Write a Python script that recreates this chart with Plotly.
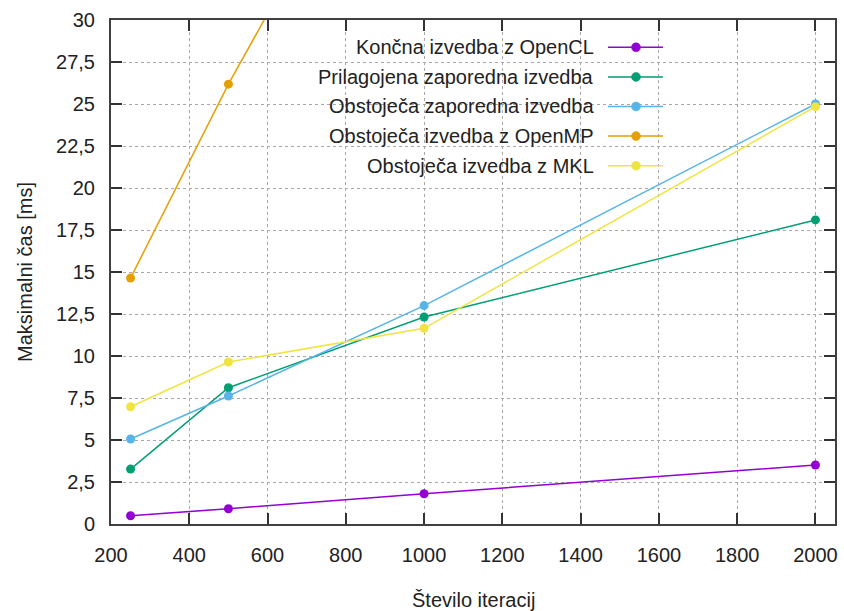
import plotly.graph_objects as go

iterations = [250, 500, 1000, 2000]
opencl_final = [0.49, 0.91, 1.80, 3.51]
adapted_serial = [3.27, 8.11, 12.32, 18.10]
existing_serial = [5.06, 7.62, 13.00, 25.00]
existing_openmp = [14.64, 26.18, 47.1, 92.0]
existing_mkl = [6.98, 9.64, 11.65, 24.84]

series_names = [
    "Končna izvedba z OpenCL",
    "Prilagojena zaporedna izvedba",
    "Obstoječa zaporedna izvedba",
    "Obstoječa izvedba z OpenMP",
    "Obstoječa izvedba z MKL",
]
series_values = [opencl_final, adapted_serial, existing_serial, existing_openmp, existing_mkl]
series_colors = ["#9400d3", "#009e73", "#56b4e9", "#e69f00", "#f0e442"]

x_ticks = [200, 400, 600, 800, 1000, 1200, 1400, 1600, 1800, 2000]
y_ticks = [0, 2.5, 5, 7.5, 10, 12.5, 15, 17.5, 20, 22.5, 25, 27.5, 30]
y_tick_labels = ["0", "2,5", "5", "7,5", "10", "12,5", "15", "17,5", "20", "22,5", "25", "27,5", "30"]

FONT = "Liberation Sans"
TXT = "#222222"
FS = 20

fig = go.Figure()
for name, vals, col in zip(series_names, series_values, series_colors):
    fig.add_trace(go.Scatter(
        x=iterations, y=vals, name=name, mode="lines+markers",
        line=dict(color=col, width=1.5),
        marker=dict(color=col, size=9),
        showlegend=False, cliponaxis=True,
    ))

W = 724.0
L = 111.0
T = 20.0
H = 504.0

def px(xp):
    return (xp - L) / W

def py(yp):
    return (T + H - yp) / H

shapes = [
    dict(type="rect", xref="paper", yref="paper", x0=px(270), x1=px(673), y0=py(182), y1=1.0,
         fillcolor="white", line=dict(width=0), layer="between"),
]
annotations = []
for i, (name, col) in enumerate(zip(series_names, series_colors)):
    yrow = 47.3 + i * 29.6
    annotations.append(dict(
        text=name, xref="paper", yref="paper", x=px(596), y=py(yrow),
        xanchor="right", yanchor="middle", showarrow=False,
        font=dict(family=FONT, size=FS, color=TXT),
    ))
    shapes.append(dict(type="line", xref="paper", yref="paper",
                       x0=px(608), x1=px(663), y0=py(yrow), y1=py(yrow),
                       line=dict(color=col, width=1.5), layer="above"))
    shapes.append(dict(type="circle", xref="paper", yref="paper",
                       xsizemode="pixel", ysizemode="pixel",
                       xanchor=px(636), yanchor=py(yrow),
                       x0=-4.5, x1=4.5, y0=-4.5, y1=4.5,
                       fillcolor=col, line=dict(color=col, width=0.5), layer="above"))

annotations.append(dict(
    text="Maksimalni čas [ms]", xref="paper", yref="paper", x=px(25), y=0.5,
    xanchor="center", yanchor="middle", textangle=-90, showarrow=False,
    font=dict(family=FONT, size=FS, color=TXT),
))
annotations.append(dict(
    text="Število iteracij", xref="paper", yref="paper", x=0.5, y=py(600),
    xanchor="center", yanchor="middle", showarrow=False,
    font=dict(family=FONT, size=FS, color=TXT),
))

axis_common = dict(
    showline=True, linecolor="#404040", linewidth=2, mirror="ticks",
    ticks="inside", ticklen=11, tickwidth=1.5, tickcolor="#333333",
    showgrid=True, gridcolor="#a8a8a8", griddash="dot", gridwidth=1,
    zeroline=False, automargin=False,
    tickfont=dict(family=FONT, size=FS, color=TXT),
)

fig.update_layout(
    width=844, height=611,
    margin=dict(l=111, r=9, t=20, b=87, autoexpand=False),
    paper_bgcolor="white", plot_bgcolor="white",
    showlegend=False,
    shapes=shapes, annotations=annotations,
    xaxis=dict(range=[200, 2050], tickvals=x_ticks, ticklabelstandoff=12, **axis_common),
    yaxis=dict(range=[0, 30], tickvals=y_ticks, ticktext=y_tick_labels, ticklabelstandoff=10, **axis_common),
)

fig.write_html("out.html", config={"displayModeBar": False},
               post_script="document.body.style.margin='0';document.body.style.padding='0';")
